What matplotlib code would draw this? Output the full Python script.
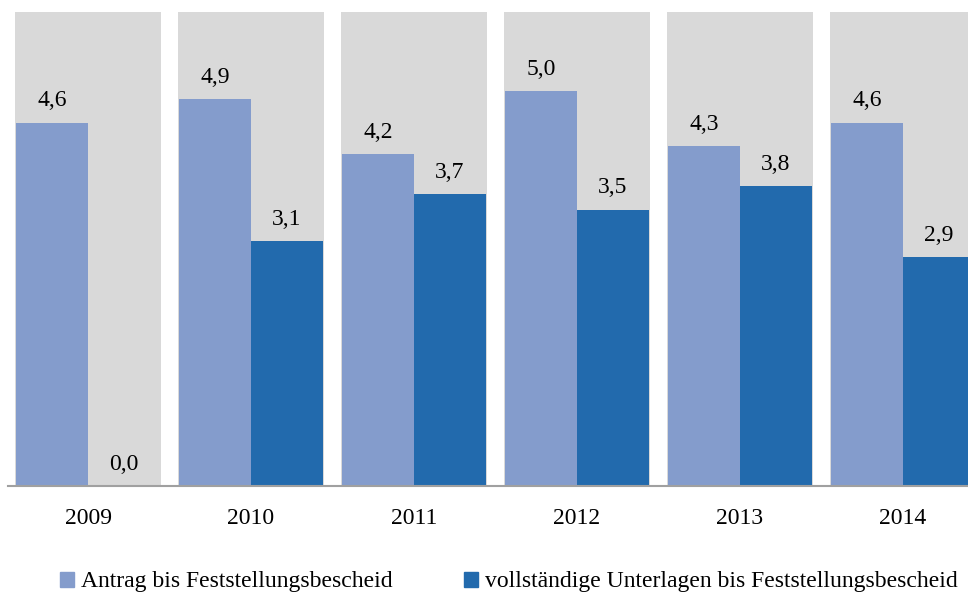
import numpy as np
import matplotlib.pyplot as plt
from matplotlib.patches import Patch

years = ['2009', '2010', '2011', '2012', '2013', '2014']
antrag = [4.6, 4.9, 4.2, 5.0, 4.3, 4.6]
unterlagen = [0.0, 3.1, 3.7, 3.5, 3.8, 2.9]
labels = ['Antrag bis Feststellungsbescheid',
          'vollständige Unterlagen bis Feststellungsbescheid']

c_light = '#849ccc'
c_dark = '#226aad'
c_band = '#d9d9d9'

plt.rcParams['font.family'] = ['Liberation Serif', 'DejaVu Serif']
fs = 17

fig = plt.figure(figsize=(9.68, 5.95), dpi=100)
ax = fig.add_axes([8/968, 109/595, 960/968, 474/595])

x = np.arange(len(years))
w = 0.44
# gray background band per category
ax.bar(x, [6]*len(years), width=0.9, color=c_band, zorder=0)
b1 = ax.bar(x - w/2, antrag, width=w, color=c_light, zorder=2)
b2 = ax.bar(x + w/2, unterlagen, width=w, color=c_dark, zorder=2)

for bars, vals in [(b1, antrag), (b2, unterlagen)]:
    for b, v in zip(bars, vals):
        ax.annotate(('%.1f' % v).replace('.', ','),
                    (b.get_x() + b.get_width()/2, v),
                    xytext=(0, 8), textcoords='offset points',
                    ha='center', va='bottom', fontsize=fs)

ax.set_xlim(-80/163, 5 + 65/163)
ax.set_ylim(0, 6)
ax.set_xticks(x)
ax.set_xticklabels(years, fontsize=fs)
ax.tick_params(axis='x', length=0, pad=16)
ax.set_yticks([])
for s in ['top', 'right', 'left']:
    ax.spines[s].set_visible(False)
ax.spines['bottom'].set_color('#a0a0a0')
ax.spines['bottom'].set_linewidth(1.5)
ax.spines['bottom'].set_zorder(3)

handles = [Patch(color=c_light), Patch(color=c_dark)]
fig.legend(handles, labels, loc='center', bbox_to_anchor=(509/968, 13/595),
           ncol=2, frameon=False, fontsize=fs, handlelength=0.6,
           handleheight=0.6, handletextpad=0.3, columnspacing=3.0)

fig.savefig('out.png', dpi=100)
